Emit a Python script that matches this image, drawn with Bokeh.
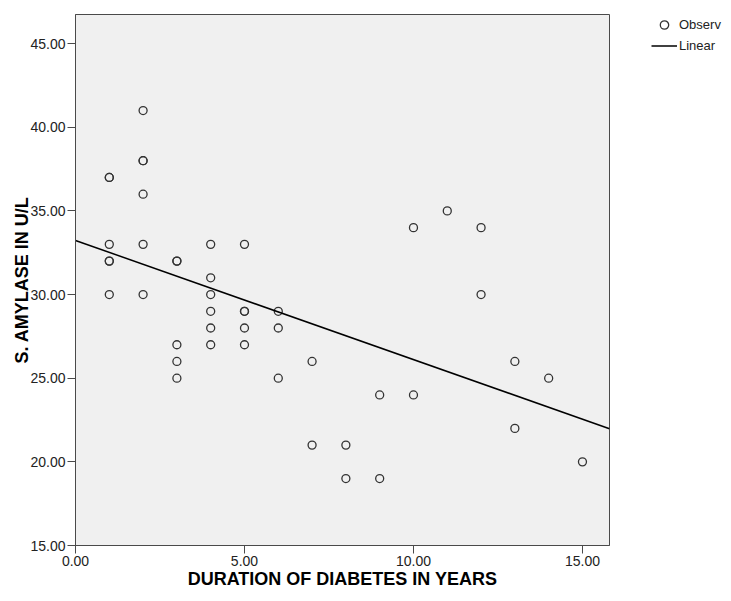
import numpy as np
from bokeh.plotting import figure
from bokeh.layouts import row
from bokeh.models import (ColumnDataSource, FixedTicker, PrintfTickFormatter,
                          Range1d, Legend, LegendItem)
from bokeh.embed import file_html
from bokeh.resources import INLINE

# ---- data ----
duration_years = [1, 1, 1, 1, 1, 1,
                  2, 2, 2, 2, 2, 2,
                  3, 3, 3, 3, 3,
                  4, 4, 4, 4, 4, 4,
                  5, 5, 5, 5, 5,
                  6, 6, 6,
                  7, 7,
                  8, 8,
                  9, 9,
                  10, 10,
                  11,
                  12, 12,
                  13, 13,
                  14,
                  15]
amylase = [37, 37, 33, 32, 32, 30,
           41, 38, 38, 36, 33, 30,
           32, 32, 27, 26, 25,
           33, 31, 30, 29, 28, 27,
           33, 29, 29, 28, 27,
           29, 28, 25,
           26, 21,
           21, 19,
           24, 19,
           34, 24,
           35,
           34, 30,
           26, 22,
           25,
           20]
x_ticks = [0, 5, 10, 15]
y_ticks = [15, 20, 25, 30, 35, 40, 45]
x_lim = (0, 15.8)
y_lim = (15, 46.74)
legend_labels = ["Observ", "Linear"]

slope, intercept = np.polyfit(duration_years, amylase, 1)
fit_x = [x_lim[0], x_lim[1]]
fit_y = [intercept + slope * v for v in fit_x]

FONT = "Liberation Sans"
AXIS_COL = "#4a4a4a"
MARKER_COL = "#333333"
TOP, BOTTOM = 14, 48

# ---- main scatter plot ----
p = figure(width=615, height=593, output_backend="svg", toolbar_location=None,
           x_range=Range1d(*x_lim), y_range=Range1d(*y_lim),
           min_border_left=75, min_border_right=6, min_border_top=TOP,
           min_border_bottom=BOTTOM)
p.background_fill_color = "#f0f0f0"
p.border_fill_color = "white"
p.outline_line_color = AXIS_COL
p.outline_line_width = 1
p.grid.visible = False

src = ColumnDataSource(dict(x=duration_years, y=amylase))
p.scatter("x", "y", source=src, size=8, fill_color=None,
          line_color=MARKER_COL, line_width=1.3)
p.line(fit_x, fit_y, line_color="black", line_width=1.5)

for ax, ticks in ((p.xaxis[0], x_ticks), (p.yaxis[0], y_ticks)):
    ax.ticker = FixedTicker(ticks=ticks)
    ax.formatter = PrintfTickFormatter(format="%.2f")
    ax.minor_tick_line_color = None
    ax.major_tick_in = 0
    ax.major_tick_out = 8
    ax.major_tick_line_color = AXIS_COL
    ax.axis_line_color = AXIS_COL
    ax.major_label_text_font = FONT
    ax.major_label_text_font_size = "14px"
    ax.major_label_text_color = "#222222"
    ax.major_label_standoff = 2
    ax.axis_label_text_font = FONT
    ax.axis_label_text_font_size = "18px"
    ax.axis_label_text_font_style = "bold"
    ax.axis_label_text_color = "black"

p.xaxis[0].axis_label = "DURATION OF DIABETES IN YEARS"
p.yaxis[0].axis_label = "S. AMYLASE IN U/L"
p.xaxis[0].axis_label_standoff = 0
p.yaxis[0].axis_label_standoff = -5

# ---- legend panel to the right of the plot ----
# its own frame shows nothing of the data (ranges lie outside it); the
# renderers only provide the legend's glyph styling
lf = figure(width=108, height=593, output_backend="svg", toolbar_location=None,
            x_range=Range1d(-2, -1), y_range=Range1d(-2, -1),
            x_axis_location=None, y_axis_location=None,
            min_border_left=36, min_border_top=TOP, min_border_right=0,
            min_border_bottom=BOTTOM)
lf.outline_line_color = None
lf.grid.visible = False
lf.background_fill_color = "white"
lf.border_fill_color = "white"
r_obs = lf.scatter(duration_years, amylase, size=8, fill_color=None,
                   line_color=MARKER_COL, line_width=1.3)
r_lin = lf.line(fit_x, fit_y, line_color="black", line_width=1.5)

legend = Legend(items=[LegendItem(label=legend_labels[0], renderers=[r_obs]),
                       LegendItem(label=legend_labels[1], renderers=[r_lin])],
                location="top_left", padding=0, margin=0, spacing=-3,
                glyph_width=26, glyph_height=21, label_height=21,
                label_standoff=2, border_line_color=None,
                background_fill_alpha=0, label_text_font=FONT,
                label_text_font_size="13px", label_text_color="#222222")
lf.add_layout(legend)

layout = row(p, lf)
open("out.html", "w").write(file_html(layout, INLINE))
